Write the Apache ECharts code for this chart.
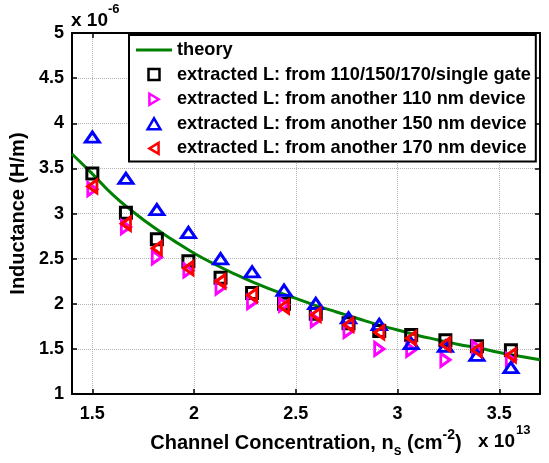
<!DOCTYPE html>
<html>
<head>
<meta charset="utf-8">
<script src="https://cdn.jsdelivr.net/npm/echarts@6/dist/echarts.min.js"></script>
<style>
  html, body { margin: 0; padding: 0; background: #fff; }
  #chart { width: 549px; height: 463px; }
</style>
</head>
<body>
<div id="chart"></div>
<script>
// channel concentration, in units of 1e13 cm^-2
const nsPoints = [1.50, 1.665, 1.817, 1.972, 2.13, 2.285, 2.442, 2.598, 2.759, 2.91, 3.067, 3.235, 3.39, 3.557]
// extracted inductance, in units of 1e-6 H/m
const singleGate = [3.445, 3.008, 2.716, 2.471, 2.29, 2.12, 2.0, 1.89, 1.785, 1.70, 1.655, 1.596, 1.53, 1.487]
const dev110 = [3.27, 2.85, 2.515, 2.37, 2.18, 2.02, 1.99, 1.82, 1.70, 1.50, 1.49, 1.38, 1.512, 1.38]
const dev150 = [3.847, 3.39, 3.044, 2.79, 2.50, 2.355, 2.151, 2.004, 1.845, 1.772, 1.56, 1.53, 1.43, 1.294]
const dev170 = [3.30, 2.887, 2.617, 2.395, 2.25, 2.096, 1.968, 1.878, 1.768, 1.684, 1.62, 1.55, 1.487, 1.43]

// theory curve
const theoryNs = [1.4, 1.5, 1.6, 1.7, 1.8, 1.9, 2.0, 2.1, 2.2, 2.3, 2.4, 2.5, 2.6, 2.7, 2.8, 2.9, 3.0, 3.1, 3.2, 3.3, 3.4, 3.5, 3.6, 3.7]
const theoryL = [3.66, 3.44, 3.21, 3.02, 2.85, 2.70, 2.56, 2.44, 2.33, 2.23, 2.14, 2.06, 1.98, 1.91, 1.84, 1.77, 1.71, 1.65, 1.60, 1.55, 1.51, 1.46, 1.42, 1.38]

const legendNames = [
  'theory',
  'extracted L: from 110/150/170/single gate',
  'extracted L: from another 110 nm device',
  'extracted L: from another 150 nm device',
  'extracted L: from another 170 nm device',
]

const FONT = '"Liberation Sans", Arial, sans-serif'

// marker shapes (path symbols keep their aspect in the legend)
const SQUARE = 'path://M0,0H10V10H0Z'
const TRI_UP = 'path://M0,12L7,0L14,12Z'
const TRI_RIGHT = 'path://M0,0L10,6L0,12Z'
const TRI_LEFT = 'path://M10,0L0,6L10,12Z'
const LINE_ICON = 'path://M0,0H36V3H0Z'

const pairs = (xs, ys) => xs.map((x, i) => [x, ys[i]])

const markerSeries = (name, values, symbol, size, color) => ({
  name: name,
  type: 'scatter',
  data: pairs(nsPoints, values),
  symbol: symbol,
  symbolSize: size,
  symbolKeepAspect: true,
  itemStyle: {
    color: 'rgba(255,255,255,0)',
    borderColor: color,
    borderWidth: 3,
    opacity: 1,
  },
  z: 3,
})

const boxAxis = {
  axisLine: { show: true, onZero: false, lineStyle: { color: '#000', width: 2 } },
  axisTick: { show: true, inside: true, length: 5, lineStyle: { color: '#000', width: 1.5 } },
  axisLabel: { show: false },
  splitLine: { show: false },
}

let myChart = echarts.init(document.getElementById('chart'))

myChart.setOption({
  animation: false,
  backgroundColor: '#fff',
  grid: { left: 72, right: 9, top: 33, bottom: 64 },
  legend: {
    data: [
      { name: legendNames[0], icon: LINE_ICON },
      { name: legendNames[1], icon: SQUARE },
      { name: legendNames[2], icon: TRI_RIGHT },
      { name: legendNames[3], icon: TRI_UP },
      { name: legendNames[4], icon: TRI_LEFT },
    ],
    orient: 'vertical',
    left: 129,
    top: 35,
    itemWidth: 36,
    itemHeight: 11,
    itemGap: 6.6,
    symbolKeepAspect: true,
    padding: [6, 5, 4, 7],
    backgroundColor: '#fff',
    borderColor: '#000',
    borderWidth: 2,
    borderRadius: 0,
    itemStyle: { borderWidth: 2.5, opacity: 1 },
    textStyle: { fontFamily: FONT, fontWeight: 'bold', fontSize: 18.2, color: '#000' },
  },
  xAxis: [
    {
      type: 'value',
      min: 1.4,
      max: 3.7,
      name: 'Channel Concentration, n{sub|s} (cm{sup|-2})',
      nameLocation: 'middle',
      nameGap: 29,
      nameTextStyle: {
        fontFamily: FONT,
        fontWeight: 'bold',
        fontSize: 20,
        color: '#000',
        lineHeight: 30,
        rich: {
          sub: { fontFamily: FONT, fontWeight: 'bold', fontSize: 14, lineHeight: 14, verticalAlign: 'bottom', color: '#000' },
          sup: { fontFamily: FONT, fontWeight: 'bold', fontSize: 14, lineHeight: 14, verticalAlign: 'top', color: '#000' },
        },
      },
      axisLine: { show: true, onZero: false, lineStyle: { color: '#000', width: 2 } },
      axisTick: { show: true, inside: true, length: 5, lineStyle: { color: '#000', width: 1.5 } },
      axisLabel: {
        margin: 11,
        fontFamily: FONT,
        fontWeight: 'bold',
        fontSize: 18,
        color: '#000',
        showMinLabel: false,
        showMaxLabel: false,
        formatter: (v) => (Math.abs(v * 2 - Math.round(v * 2)) < 1e-6 ? String(v) : ''),
      },
      splitLine: { show: true, lineStyle: { color: '#b4b4b4', type: 'dotted', width: 1 } },
    },
    Object.assign({ type: 'value', min: 1.4, max: 3.7, position: 'top' }, boxAxis),
  ],
  yAxis: [
    {
      type: 'value',
      min: 1,
      max: 5,
      interval: 0.5,
      name: 'Inductance (H/m)',
      nameLocation: 'middle',
      nameGap: 39,
      nameTextStyle: { fontFamily: FONT, fontWeight: 'bold', fontSize: 20, color: '#000' },
      axisLine: { show: true, onZero: false, lineStyle: { color: '#000', width: 2 } },
      axisTick: { show: true, inside: true, length: 5, lineStyle: { color: '#000', width: 1.5 } },
      axisLabel: { margin: 8, fontFamily: FONT, fontWeight: 'bold', fontSize: 18, color: '#000' },
      splitLine: { show: true, lineStyle: { color: '#b4b4b4', type: 'dotted', width: 1 } },
    },
    Object.assign({ type: 'value', min: 1, max: 5, interval: 0.5, position: 'right' }, boxAxis),
  ],
  graphic: [
    {
      type: 'text',
      left: 71,
      top: 11,
      style: { text: 'x 10', fontFamily: FONT, fontWeight: 'bold', fontSize: 19, fill: '#000' },
    },
    {
      type: 'text',
      left: 108,
      top: 3,
      style: { text: '-6', fontFamily: FONT, fontWeight: 'bold', fontSize: 13, fill: '#000' },
    },
    {
      type: 'text',
      left: 478,
      top: 432,
      style: { text: 'x 10', fontFamily: FONT, fontWeight: 'bold', fontSize: 19, fill: '#000' },
    },
    {
      type: 'text',
      left: 516,
      top: 424,
      style: { text: '13', fontFamily: FONT, fontWeight: 'bold', fontSize: 13, fill: '#000' },
    },
  ],
  series: [
    {
      name: legendNames[0],
      type: 'line',
      data: pairs(theoryNs, theoryL),
      smooth: true,
      symbol: 'none',
      lineStyle: { color: '#008000', width: 3 },
      itemStyle: { color: '#008000' },
      z: 2,
    },
    markerSeries(legendNames[1], singleGate, SQUARE, 11, '#000'),
    markerSeries(legendNames[2], dev110, TRI_RIGHT, [11, 13], '#ff00ff'),
    markerSeries(legendNames[3], dev150, TRI_UP, [14, 12], '#0000ff'),
    markerSeries(legendNames[4], dev170, TRI_LEFT, [11, 13], '#ff0000'),
  ],
})
</script>
</body>
</html>
